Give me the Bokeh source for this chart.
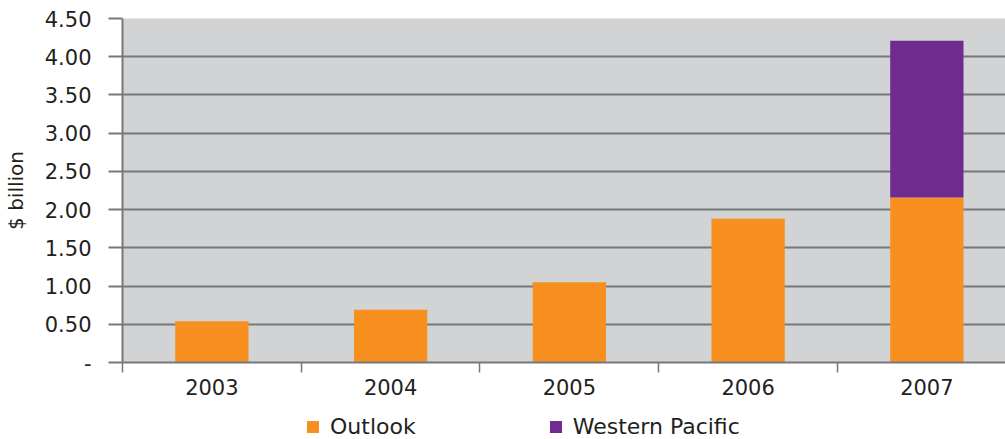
from bokeh.plotting import figure
from bokeh.layouts import column
from bokeh.models import Range1d, FixedTicker, Legend, LegendItem, ColumnDataSource
from bokeh.embed import file_html
from bokeh.resources import INLINE

years = [2003, 2004, 2005, 2006, 2007]
year_labels = ["2003", "2004", "2005", "2006", "2007"]
outlook = [0.54, 0.69, 1.05, 1.88, 2.16]
western_pacific = [0.0, 0.0, 0.0, 0.0, 2.05]
y_ticks = [0, 0.5, 1.0, 1.5, 2.0, 2.5, 3.0, 3.5, 4.0, 4.5]
series = ["outlook", "western_pacific"]
series_names = ["Outlook", "Western Pacific"]
colors = ["#F7901E", "#6F2C8E"]

FONT = "DejaVu Sans"
TXT = "#231F20"
GRID = "#77787B"

src = ColumnDataSource(dict(x=years, outlook=outlook, western_pacific=western_pacific))

# the visible frame shows slightly less than five full categories (the last is cut at the right edge)
p = figure(width=1005, height=402, output_backend="svg", toolbar_location=None,
           x_range=Range1d(years[0] - 0.5, years[-1] + 0.44), y_range=Range1d(0, 4.5),
           min_border_left=122, min_border_right=0, min_border_top=18, min_border_bottom=40)
p.background_fill_color = "#D1D3D4"
p.border_fill_color = "white"
p.outline_line_color = None

rs = p.vbar_stack(series, x="x", width=0.41, source=src, color=colors, line_color=None)

# y axis
yax = p.yaxis[0]
yax.ticker = FixedTicker(ticks=y_ticks, minor_ticks=[])
yax.major_label_overrides = {t: ("-" if t == 0 else f"{t:.2f}") for t in y_ticks}
yax.major_label_text_font = FONT
yax.major_label_text_font_size = "21px"
yax.major_label_text_color = TXT
yax.major_tick_out = 14
yax.major_tick_in = 0
yax.major_tick_line_color = GRID
yax.major_tick_line_width = 2
yax.major_label_standoff = 17
yax.axis_line_color = GRID
yax.axis_line_width = 2
yax.axis_label = "$ billion"
yax.axis_label_text_font = FONT
yax.axis_label_text_font_size = "20px"
yax.axis_label_text_font_style = "normal"
yax.axis_label_text_color = TXT
yax.axis_label_standoff = 14

# x axis
xax = p.xaxis[0]
bounds = [y - 0.5 for y in years]
xax.ticker = FixedTicker(ticks=years, minor_ticks=bounds)
xax.major_label_overrides = {y: l for y, l in zip(years, year_labels)}
xax.major_tick_line_color = None
xax.major_tick_out = 0
xax.major_tick_in = 0
xax.minor_tick_out = 10
xax.minor_tick_in = 0
xax.minor_tick_line_color = GRID
xax.minor_tick_line_width = 1.5
xax.axis_line_color = GRID
xax.axis_line_width = 2
xax.major_label_text_font = FONT
xax.major_label_text_font_size = "21px"
xax.major_label_text_color = TXT
xax.major_label_standoff = 6

p.xgrid.grid_line_color = None
p.ygrid.ticker = FixedTicker(ticks=y_ticks)
p.ygrid.grid_line_color = GRID
p.ygrid.grid_line_width = 2

# legend strip below the chart (its swatch glyphs lie outside its own ranges)
p2 = figure(width=1005, height=37, output_backend="svg", toolbar_location=None,
            x_range=Range1d(0, 1), y_range=Range1d(100, 101),
            x_axis_type=None, y_axis_type=None,
            min_border_left=0, min_border_right=0, min_border_top=0, min_border_bottom=0)
p2.outline_line_color = None
p2.xgrid.visible = False
p2.ygrid.visible = False
p2.background_fill_color = "white"
rs2 = p2.vbar_stack(series, x="x", width=0.41, source=src, color=colors, line_color=None)

legend = Legend(items=[LegendItem(label=n, renderers=[r]) for n, r in zip(series_names, rs2)],
                orientation="horizontal", location=(183, 0),
                glyph_width=15, glyph_height=15, label_height=15,
                label_text_font=FONT, label_text_font_size="22px", label_text_color=TXT,
                label_standoff=10, spacing=132, padding=0, margin=0,
                border_line_color=None, background_fill_alpha=0)
p2.add_layout(legend, "center")

layout = column(p, p2, spacing=0)
open("out.html", "w").write(file_html(layout, INLINE))
